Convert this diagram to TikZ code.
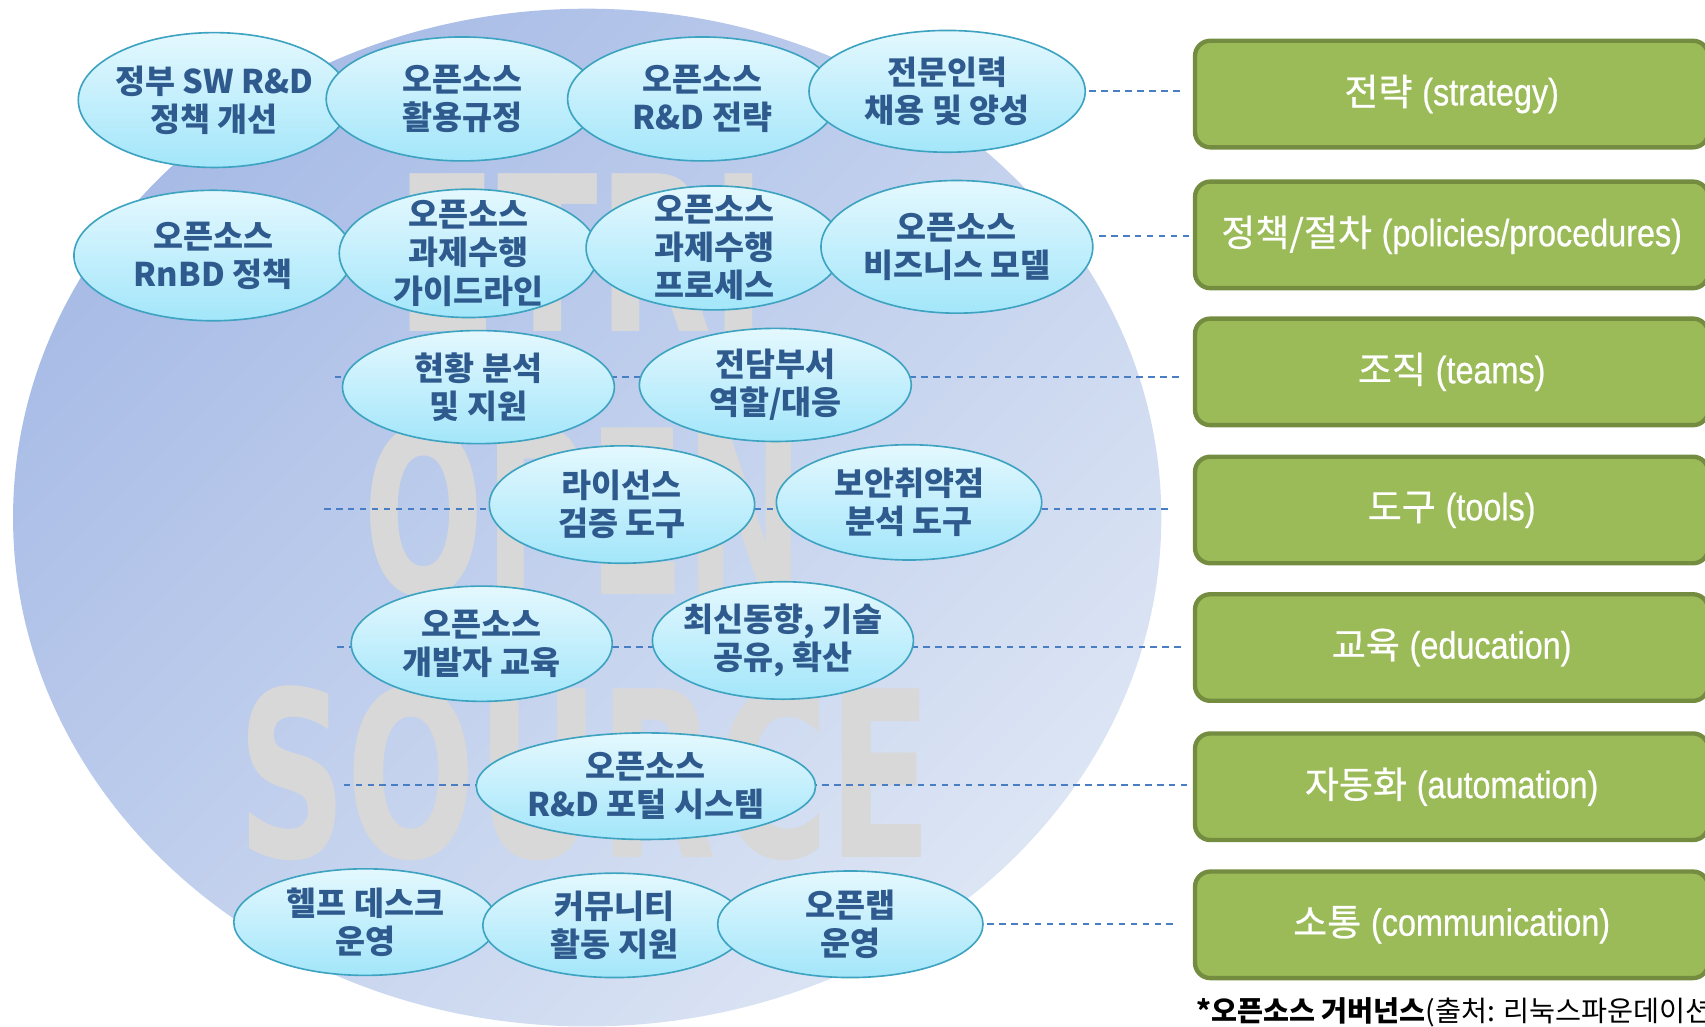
\documentclass[tikz,border=0pt]{standalone}
\usepackage{fontspec}
\usepackage{graphicx}
\usetikzlibrary{shapes.geometric}
\newfontfamily\kr{Noto Sans CJK KR}
\newfontfamily\krbox[FakeBold=0.6]{Noto Sans CJK KR}
\newfontfamily\narrowfont[FakeStretch=0.85,FakeBold=0.6]{Liberation Sans}
\newfontfamily\wmfont{DejaVu Sans}
\definecolor{txtblue}{HTML}{2F5A8E}
\definecolor{ovalline}{HTML}{3DA3C1}
\definecolor{ovaltop}{HTML}{E4F8FE}
\definecolor{ovalbot}{HTML}{A3E6FA}
\definecolor{boxfill}{HTML}{9BBB59}
\definecolor{boxline}{HTML}{738C40}
\definecolor{dashblue}{HTML}{4A7EC4}
\definecolor{circA}{HTML}{A7BBE6}
\definecolor{circB}{HTML}{DCE5F4}
\definecolor{wmgray}{HTML}{D8D8D8}
\tikzset{
  oval/.style={ellipse, draw=ovalline, line width=1.5bp, top color=ovaltop, bottom color=ovalbot, inner sep=0pt},
  otext/.style={align=center, text=txtblue, inner sep=0pt, font=\kr\bfseries\fontsize{30bp}{35bp}\selectfont},
  gbox/.style={rounded corners=14bp, draw=boxline, line width=4bp, fill=boxfill, minimum width=472bp, minimum height=98bp, anchor=west, text=white, inner sep=0pt},
  link/.style={draw=dashblue, dash pattern=on 6bp off 5bp, line width=1.8bp},
  wmark/.style={inner sep=0pt, text=wmgray, font=\wmfont\bfseries},
}
\newcommand\ov[6]{%
  \node[oval, minimum width=#4bp, minimum height=#5bp] (#1) at (#2,#3) {};
  \node[otext] (#1t) at (#1.center) {#6};}
\newcommand\bxlabel[2]{{\krbox\fontsize{34bp}{38bp}\selectfont #1}\hspace{9bp}{\narrowfont\fontsize{35bp}{38bp}\selectfont (#2)}}
\begin{document}
\begin{tikzpicture}[x=1bp,y=-1bp]
\useasboundingbox (0,0) rectangle (1568,944);
\clip (0,0) rectangle (1568,944);
% background disc
\path[top color=circA, bottom color=circB, shading angle=45] (540,476) ellipse [x radius=528bp, y radius=468bp];
% watermark
\node[wmark] (wm1) at (535,232) {\resizebox{340bp}{145bp}{ETRI}};
\node[wmark] (wm2) at (537,470) {\resizebox{405bp}{156bp}{OPEN}};
\node[wmark] (wm3) at (538,711) {\resizebox{640bp}{158bp}{SOURCE}};
% category boxes
\node[gbox] (b1) at (1097,86.5) {\bxlabel{전략}{strategy}};
\node[gbox] (b2) at (1097,216) {\bxlabel{정책/절차}{policies/procedures}};
\node[gbox] (b3) at (1097,342) {\bxlabel{조직}{teams}};
\node[gbox] (b4) at (1097,469) {\bxlabel{도구}{tools}};
\node[gbox] (b5) at (1097,595.5) {\bxlabel{교육}{education}};
\node[gbox] (b6) at (1097,723.5) {\bxlabel{자동화}{automation}};
\node[gbox] (b7) at (1097,850.5) {\bxlabel{소통}{communication}};
% free ends of connectors
\coordinate (l3) at (308,347);
\coordinate (l4) at (298,468);
\coordinate (l5) at (310,595);
\coordinate (l6) at (316,722);
\draw[link, shorten >=10bp] (l3) -- (b3.west |- l3);
\draw[link, shorten >=18bp] (l4) -- (b4.west |- l4);
\draw[link, shorten >=6bp] (l5) -- (b5.west |- l5);
\draw[link, shorten >=2bp] (l6) -- (b6.west |- l6);
% ellipses
\ov{e1a}{197}{92}{250}{124}{정부 SW R\&D\\정책 개선}
\ov{e1b}{425}{91}{250}{114}{오픈소스\\활용규정}
\ov{e1c}{646}{91}{248}{114}{오픈소스\\R\&D 전략}
\ov{e1d}{871}{84}{254}{112}{전문인력\\채용 및 양성}
\ov{e2a}{196}{235}{256}{120}{오픈소스\\RnBD 정책}
\ov{e2b}{431}{233}{238}{118}{오픈소스\\과제수행\\가이드라인}
\ov{e2c}{657}{228}{236}{114}{오픈소스\\과제수행\\프로세스}
\ov{e2d}{880}{227}{250}{122}{오픈소스\\비즈니스 모델}
\ov{e3a}{440}{356}{250}{104}{현황 분석\\및 지원}
\ov{e3b}{713}{354}{250}{104}{전담부서\\역할/대응}
\ov{e4a}{572}{464}{244}{108}{라이선스\\검증 도구}
\ov{e4b}{836}{462}{244}{106}{보안취약점\\분석 도구}
\ov{e5a}{443}{592}{240}{106}{오픈소스\\개발자 교육}
\ov{e5b}{720}{589}{240}{108}{최신동향, 기술\\공유, 확산}
\ov{e6a}{594}{723}{312}{98}{오픈소스\\R\&D 포털 시스템}
\ov{e7a}{336}{848}{242}{98}{헬프 데스크\\운영}
\ov{e7b}{565}{851}{242}{96}{커뮤니티\\활동 지원}
\ov{e7c}{782}{850}{244}{98}{오픈랩\\운영}
% connectors from ellipses to boxes
\coordinate (e2dr) at ([yshift=10bp]e2d.east);
\draw[link, shorten >=8bp, shorten <=3bp] (e1d.east) -- (b1.west |- e1d.east);
\draw[link, shorten >=2bp, shorten <=5bp] (e2dr) -- (b2.west |- e2dr);
\draw[link, shorten >=18bp, shorten <=3bp] (e7c.east) -- (b7.west |- e7c.east);
% note
\node[anchor=base west, inner sep=0pt, font=\kr\fontsize{26bp}{30bp}\selectfont] (note) at (1100,939) {\textbf{*오픈소스 거버넌스}(출처: 리눅스파운데이션};
\end{tikzpicture}
\end{document}
